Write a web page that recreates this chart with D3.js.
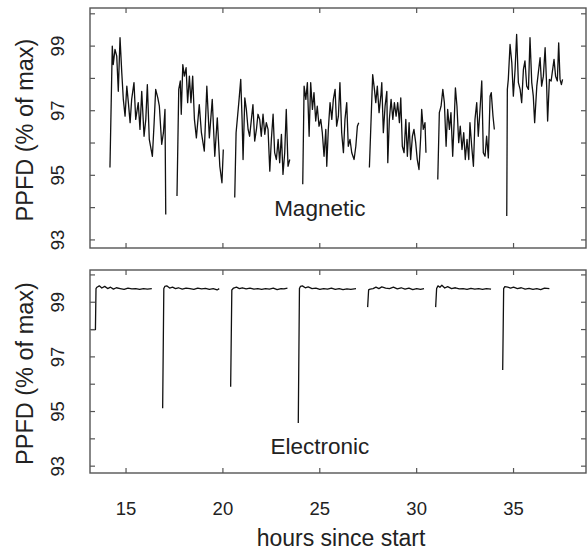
<!DOCTYPE html>
<html>
<head>
<meta charset="utf-8">
<script src="https://cdn.jsdelivr.net/npm/d3@7"></script>
<style>
  body { margin: 0; background: #fff; }
  svg text { font-family: "Liberation Sans", Arial, Helvetica, sans-serif; fill: #222; }
</style>
</head>
<body>
<svg id="chart" width="587" height="550"></svg>
<script>
// magnetic ballast, one null between runs
const magHours = [
  14.17,14.29,14.34,14.43,14.52,14.60,14.69,14.78,14.86,14.95,15.04,15.12,15.21,15.29,15.41,15.50,15.63,15.72,15.81,15.93,16.02,16.10,16.20,16.36,16.45,16.53,16.64,16.72,16.84,16.93,17.01,17.05, null,
  17.63,17.72,17.80,17.85,17.93,18.01,18.10,18.18,18.27,18.35,18.44,18.53,18.63,18.78,18.89,19.04,19.17,19.30,19.45,19.58,19.71,19.84,19.95,20.02, null,
  20.61,20.68,20.82,20.92,20.99,21.04,21.13,21.21,21.30,21.38,21.47,21.55,21.64,21.73,21.81,21.90,21.98,22.07,22.16,22.24,22.33,22.42,22.50,22.59,22.67,22.76,22.85,22.93,23.02,23.10,23.19,23.27,23.36,23.45, null,
  24.12,24.19,24.28,24.36,24.45,24.53,24.62,24.70,24.79,24.87,24.96,25.05,25.13,25.22,25.31,25.36,25.44,25.53,25.62,25.70,25.79,25.87,25.96,26.04,26.13,26.22,26.30,26.39,26.47,26.56,26.65,26.77,26.86,26.94,27.01, null,
  27.56,27.73,27.82,27.89,27.97,28.06,28.15,28.20,28.28,28.37,28.46,28.51,28.59,28.68,28.77,28.85,28.94,29.02,29.11,29.18,29.26,29.35,29.44,29.52,29.61,29.69,29.78,29.86,29.95,30.03,30.12,30.21,30.26,30.34,30.43,30.48, null,
  31.09,31.17,31.26,31.35,31.43,31.52,31.60,31.69,31.77,31.86,31.94,32.00,32.08,32.17,32.25,32.34,32.43,32.51,32.60,32.69,32.75,32.84,32.93,33.01,33.10,33.18,33.27,33.36,33.44,33.53,33.61,33.70,33.79,33.85,33.94,34.01, null,
  34.65,34.68,34.73,34.82,34.91,34.99,35.08,35.16,35.25,35.34,35.42,35.51,35.59,35.68,35.77,35.85,35.94,36.02,36.09,36.20,36.28,36.37,36.45,36.54,36.63,36.71,36.76,36.85,36.94,37.02,37.09,37.17,37.26,37.33,37.40,37.47,37.53
]
const magPPFD = [
  95.24,99.00,98.43,98.90,98.69,97.60,99.26,98.18,97.35,96.83,97.76,97.25,96.63,97.35,97.87,96.73,97.25,96.42,97.60,96.21,96.73,97.81,96.11,95.59,96.63,97.66,97.40,97.14,95.96,96.32,97.04,93.79, null,
  94.36,97.66,97.92,96.89,98.43,98.07,98.33,97.25,98.07,97.25,98.07,96.73,96.16,97.19,96.32,95.75,97.76,96.16,97.35,95.59,96.78,95.28,94.77,95.80, null,
  94.31,96.32,97.25,97.97,96.73,95.49,97.40,97.04,96.42,96.21,96.73,97.19,96.06,96.42,96.89,96.73,96.21,96.89,96.27,96.63,96.42,95.13,96.11,96.89,95.70,95.49,96.11,95.39,96.27,95.03,95.70,97.04,95.28,95.49, null,
  94.72,97.76,97.35,97.87,96.21,97.87,97.04,97.56,96.68,97.14,96.52,96.73,96.32,95.59,96.42,95.28,96.42,97.25,96.73,97.35,97.66,96.52,96.83,97.87,96.32,95.70,96.73,97.25,95.90,96.11,95.70,95.49,95.90,96.52,96.63, null,
  95.24,98.12,97.66,97.25,97.76,96.94,97.45,97.87,96.32,97.14,97.60,95.39,96.73,97.35,96.73,97.25,96.83,97.25,96.63,97.40,95.90,95.70,96.73,95.59,96.63,95.49,96.21,96.42,96.01,95.49,95.18,96.21,97.04,96.42,96.63,95.70, null,
  94.87,96.94,97.14,97.66,97.25,95.90,97.04,96.42,96.94,95.59,96.73,97.71,97.14,96.01,96.52,95.80,96.32,95.49,96.11,95.49,96.63,95.90,95.28,96.73,97.25,96.21,97.04,97.92,95.70,95.59,96.21,95.54,97.45,97.56,96.83,96.42, null,
  93.74,97.66,97.97,99.05,98.49,97.45,98.28,99.36,97.87,97.66,97.25,98.28,98.54,97.76,97.66,99.26,97.87,97.45,96.63,97.76,98.18,98.64,97.76,98.07,98.95,97.76,96.68,97.97,97.92,98.28,98.59,98.07,97.92,99.10,97.97,97.81,97.97
]

// electronic ballast
const elecHours = [
  13.19,13.42,13.45,13.50,13.62,13.75,13.90,14.05,14.20,14.35,14.50,14.70,14.90,15.10,15.30,15.50,15.70,15.90,16.10,16.33, null,
  16.89,16.95,17.00,17.10,17.25,17.40,17.55,17.70,17.90,18.10,18.30,18.50,18.70,18.90,19.10,19.30,19.50,19.70,19.81, null,
  20.40,20.46,20.55,20.70,20.85,21.00,21.20,21.40,21.60,21.80,22.00,22.20,22.40,22.60,22.80,23.00,23.15,23.33, null,
  23.89,23.95,24.00,24.10,24.25,24.40,24.60,24.80,25.00,25.20,25.40,25.60,25.80,26.00,26.20,26.40,26.60,26.87, null,
  27.47,27.52,27.60,27.75,27.90,28.05,28.20,28.40,28.60,28.80,29.00,29.20,29.40,29.60,29.80,30.00,30.20,30.38, null,
  30.98,31.03,31.10,31.20,31.30,31.45,31.60,31.80,32.00,32.20,32.40,32.60,32.80,33.00,33.20,33.40,33.60,33.84, null,
  34.44,34.49,34.55,34.70,34.85,35.00,35.20,35.40,35.60,35.80,36.00,36.20,36.40,36.60,36.85
]
const elecPPFD = [
  98.00,98.00,99.50,99.55,99.60,99.52,99.58,99.50,99.55,99.48,99.53,99.50,99.47,99.52,99.49,99.50,99.47,99.50,99.48,99.50, null,
  95.12,99.50,99.58,99.60,99.52,99.55,99.50,99.53,99.48,99.52,99.50,99.47,99.52,99.49,99.51,99.47,99.50,99.45,99.50, null,
  95.91,99.45,99.52,99.55,99.50,99.53,99.49,99.52,99.48,99.50,99.47,99.50,99.48,99.52,99.46,99.50,99.49,99.52, null,
  94.58,99.50,99.58,99.60,99.53,99.56,99.50,99.52,99.47,99.50,99.48,99.52,99.47,99.50,99.46,99.49,99.47,99.50, null,
  98.82,99.45,99.48,99.50,99.55,99.50,99.56,99.52,99.50,99.55,99.49,99.53,99.48,99.52,99.46,99.50,99.47,99.50, null,
  98.82,99.50,99.60,99.55,99.62,99.52,99.57,99.50,99.53,99.49,99.50,99.47,99.51,99.48,99.50,99.47,99.50,99.48, null,
  96.52,99.50,99.57,99.55,99.52,99.55,99.50,99.53,99.48,99.51,99.47,99.50,99.46,99.52,99.50
]

const xTicks = [15, 20, 25, 30, 35]
const yTicks = [93, 94, 95, 96, 97, 98, 99, 100]
const yLabels = [93, 95, 97, 99]

const svg = d3.select('#chart')
const left = 90, right = 586

const x = d3.scaleLinear().domain([13.14, 38.74]).range([left, right])

const panels = [
  { name: 'Magnetic', hours: magHours, vals: magPPFD, top: 8, bottom: 248, labelY: 216 },
  { name: 'Electronic', hours: elecHours, vals: elecPPFD, top: 270, bottom: 473, labelY: 454 }
]

const tick = 5
const axisColor = '#555'

panels.forEach(p => {
  const y = d3.scaleLinear().domain([92.75, 100.18]).range([p.bottom, p.top])
  const g = svg.append('g')
  const data = d3.zip(p.hours, p.vals)

  const line = d3.line()
    .defined(d => d[0] != null && d[1] != null)
    .x(d => x(d[0]))
    .y(d => y(d[1]))

  g.append('path')
    .datum(data)
    .attr('fill', 'none')
    .attr('stroke', '#111')
    .attr('stroke-width', 1.3)
    .attr('stroke-linejoin', 'round')
    .attr('d', line)

  // box
  g.append('rect')
    .attr('x', left).attr('y', p.top)
    .attr('width', right - left).attr('height', p.bottom - p.top)
    .attr('fill', 'none').attr('stroke', axisColor).attr('stroke-width', 1.4)

  // inward ticks all round
  xTicks.forEach(t => {
    g.append('line').attr('x1', x(t)).attr('x2', x(t)).attr('y1', p.bottom).attr('y2', p.bottom - tick)
      .attr('stroke', axisColor).attr('stroke-width', 1.2)
    g.append('line').attr('x1', x(t)).attr('x2', x(t)).attr('y1', p.top).attr('y2', p.top + tick)
      .attr('stroke', axisColor).attr('stroke-width', 1.2)
  })
  yTicks.forEach(t => {
    g.append('line').attr('x1', left).attr('x2', left + tick).attr('y1', y(t)).attr('y2', y(t))
      .attr('stroke', axisColor).attr('stroke-width', 1.2)
    g.append('line').attr('x1', right).attr('x2', right - tick).attr('y1', y(t)).attr('y2', y(t))
      .attr('stroke', axisColor).attr('stroke-width', 1.2)
  })

  yLabels.forEach(t => {
    g.append('text')
      .attr('transform', `translate(64,${y(t)}) rotate(-90)`)
      .attr('text-anchor', 'middle')
      .style('font-size', '18.5px')
      .text(t)
  })

  g.append('text')
    .attr('transform', `translate(33,${(p.top + p.bottom) / 2 + 2}) rotate(-90)`)
    .attr('text-anchor', 'middle')
    .style('font-size', '23.5px')
    .text('PPFD (% of max)')

  g.append('text')
    .attr('x', x(25)).attr('y', p.labelY)
    .attr('text-anchor', 'middle')
    .style('font-size', '22.5px')
    .text(p.name)
})

xTicks.forEach(t => {
  svg.append('text')
    .attr('x', x(t)).attr('y', 515)
    .attr('text-anchor', 'middle')
    .style('font-size', '18.5px')
    .text(t)
})

svg.append('text')
  .attr('x', 341).attr('y', 546)
  .attr('text-anchor', 'middle')
  .style('font-size', '23px')
  .text('hours since start')
</script>
</body>
</html>
